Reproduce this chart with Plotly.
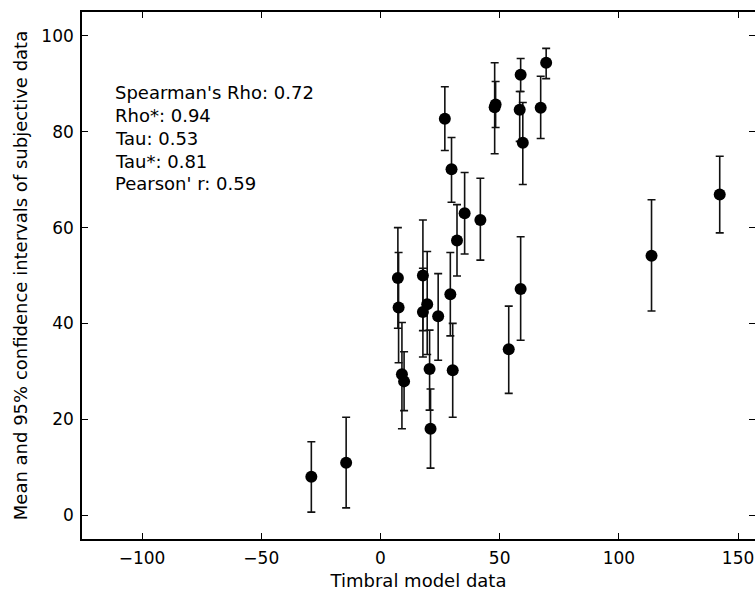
import plotly.graph_objects as go

# Data
x_model = [-29.0, -14.4, 7.3, 7.6, 9.0, 9.9, 17.8, 17.8, 19.6, 20.6, 21.0, 24.2, 27.0, 29.3, 29.8,
           30.3, 32.1, 35.3, 41.9, 47.9, 48.3, 53.8, 58.4, 58.8, 58.8, 59.7, 67.2, 69.5, 113.7, 142.3]
y_mean = [8.0, 10.9, 49.5, 43.3, 29.4, 27.9, 50.0, 42.4, 44.0, 30.5, 18.0, 41.5, 82.7, 46.1, 72.2,
          30.2, 57.3, 63.0, 61.6, 85.1, 85.7, 34.6, 84.6, 91.9, 47.2, 77.7, 85.0, 94.4, 54.1, 66.9]
ci_upper = [15.3, 20.4, 60.0, 54.8, 40.2, 34.1, 61.6, 51.5, 55.0, 38.6, 26.3, 50.4, 89.4, 54.8, 78.8,
            40.0, 64.8, 71.5, 70.3, 94.4, 90.5, 43.6, 88.4, 95.3, 58.1, 86.1, 91.6, 97.4, 65.8, 74.9]
ci_lower = [0.6, 1.5, 39.0, 31.8, 18.0, 21.8, 38.5, 33.0, 33.5, 21.9, 9.8, 32.3, 76.1, 37.4, 65.3,
            20.4, 49.9, 54.5, 53.2, 75.4, 80.9, 25.4, 78.0, 88.4, 36.5, 69.0, 78.6, 91.1, 42.6, 58.9]

stats_lines = ["Spearman's Rho: 0.72", "Rho*: 0.94", "Tau: 0.53", "Tau*: 0.81", "Pearson' r: 0.59"]

x_ticks = [-100, -50, 0, 50, 100, 150]
y_ticks = [0, 20, 40, 60, 80, 100]

err_plus = [u - m for u, m in zip(ci_upper, y_mean)]
err_minus = [m - l for m, l in zip(y_mean, ci_lower)]

FONT = "DejaVu Sans"

fig = go.Figure()
fig.add_trace(go.Scatter(
    x=x_model, y=y_mean, mode="markers",
    marker=dict(color="black", size=12),
    error_y=dict(type="data", symmetric=False, array=err_plus, arrayminus=err_minus,
                 color="#111111", thickness=1.6, width=4),
    showlegend=False, hoverinfo="x+y",
))
# invisible trace carrying the right-hand mirrored y ticks
fig.add_trace(go.Scatter(
    x=x_model, y=y_mean, mode="markers", yaxis="y2",
    marker=dict(opacity=0), showlegend=False, hoverinfo="skip",
))

line_y = [88.3, 83.5, 78.7, 73.9, 69.1]
for txt, yy in zip(stats_lines, line_y):
    fig.add_annotation(x=-112.0, y=yy, xref="x", yref="y", text=txt, showarrow=False,
                       xanchor="left", yanchor="middle",
                       font=dict(family=FONT, size=18, color="black"))

fig.update_layout(
    width=755, height=598,
    margin=dict(l=82, r=0, t=12, b=59),
    paper_bgcolor="white", plot_bgcolor="white",
    font=dict(family=FONT, color="black"),
    xaxis=dict(
        range=[-125.2, 157.1], tickvals=x_ticks, ticktext=[str(v).replace("-", "\u2212") for v in x_ticks],
        ticks="inside", ticklen=6, tickwidth=1.2, tickcolor="black",
        showline=True, linecolor="black", linewidth=1.6, mirror="ticks",
        showgrid=False, zeroline=False, ticklabelstandoff=3,
        tickfont=dict(family=FONT, size=17, color="black"),
        title=dict(text="Timbral model data", font=dict(family=FONT, size=18, color="black"), standoff=7),
    ),
    yaxis=dict(
        range=[-5, 105], tickvals=y_ticks,
        ticks="inside", ticklen=6, tickwidth=1.2, tickcolor="black",
        showline=True, linecolor="black", linewidth=1.6,
        showgrid=False, zeroline=False, ticklabelstandoff=3,
        tickfont=dict(family=FONT, size=17, color="black"),
        title=dict(text="Mean and 95% confidence intervals of subjective data",
                   font=dict(family=FONT, size=18, color="black"), standoff=9),
    ),
    yaxis2=dict(
        range=[-5, 105], tickvals=y_ticks, overlaying="y", side="right", anchor="x",
        ticks="inside", ticklen=6, tickwidth=1.2, tickcolor="black",
        showline=False, showgrid=False, zeroline=False, showticklabels=False,
    ),
)

fig.write_html("out.html")
